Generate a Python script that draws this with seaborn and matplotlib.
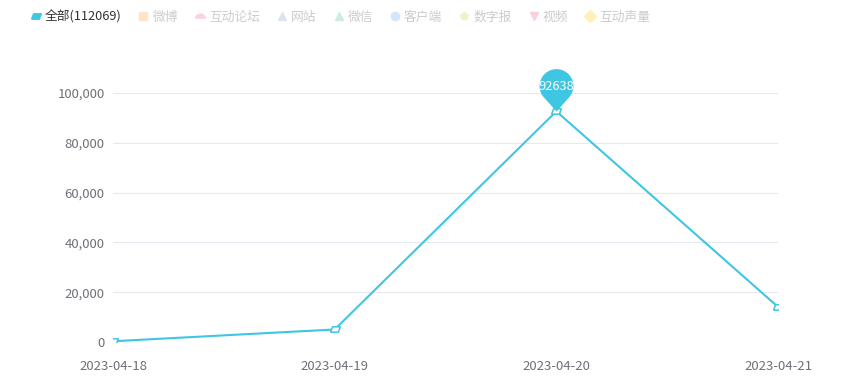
import numpy as np
import pandas as pd
import seaborn as sns
import matplotlib.pyplot as plt
from matplotlib.path import Path
from matplotlib.lines import Line2D
from matplotlib.ticker import FuncFormatter

sns.set_style('white')
plt.rcParams['font.family'] = ['Noto Sans CJK SC', 'DejaVu Sans']

# data
dates = ['2023-04-18', '2023-04-19', '2023-04-20', '2023-04-21']
counts = [300, 5031, 92638, 14100]
legend_names = ['全部(112069)', '微博', '互动论坛', '网站', '微信', '客户端', '数字报', '视频', '互动声量']
legend_colors = ['#3ec6e3', '#fde3c8', '#fad3dd', '#dde3f1', '#cdeedd', '#d3e6fb', '#ebf5cc', '#fbd0da', '#fdf0b8']
legend_markers = ['para', 's', 'hcirc', '^', '^', 'o', 'p', 'v', 'D']

main = '#3ec6e3'
df = pd.DataFrame({'date': dates, 'count': counts})

# custom marker shapes
para = Path([(-1, -0.55), (0.6, -0.55), (1, 0.55), (-0.6, 0.55), (-1, -0.55)])
hc_t = np.linspace(0, np.pi, 20)
hcirc = Path(np.column_stack([np.cos(hc_t), np.sin(hc_t) - 0.5]))
a = np.degrees(np.arccos(1 / 1.5))
t = np.radians(np.linspace(270 + a, 270 - a + 360, 60))
pin = Path(np.vstack([[0, 0], np.column_stack([np.cos(t), 1.5 + np.sin(t)]), [0, 0]]))
shapes = {'para': para, 'hcirc': hcirc}

fig = plt.figure(figsize=(8.6, 3.89), dpi=100)
ax = fig.add_axes([113 / 860, 1 - 342 / 389, 665 / 860, 249 / 389])

sns.lineplot(data=df, x='date', y='count', ax=ax, color=main, linewidth=1.5,
             marker=para, markersize=7, markerfacecolor='white',
             markeredgecolor=main, markeredgewidth=1.1, sort=False)

# max pin
imax = int(np.argmax(counts))
ax.plot([imax], [counts[imax]], marker=pin, markersize=61, color=main,
        markeredgewidth=0, linestyle='none', zorder=5, clip_on=False)
ax.annotate(str(counts[imax]), (imax, counts[imax]), xytext=(0, 18),
            textcoords='offset points', ha='center', va='center',
            color='white', fontsize=9.3, zorder=6)

ax.set_xlim(0, len(dates) - 1)
ax.set_ylim(0, 100000)
ax.set_yticks(np.arange(0, 100001, 20000))
ax.yaxis.set_major_formatter(FuncFormatter(lambda v, p: f'{int(v):,}'))
ax.grid(axis='y', color='#e6e9f0', linewidth=0.8)
ax.grid(axis='x', visible=False)
for s in ax.spines.values():
    s.set_visible(False)
ax.tick_params(axis='y', length=0, pad=6, labelsize=9.5, labelcolor='#6e7079')
ax.tick_params(axis='x', length=0, pad=13, labelsize=9.5, labelcolor='#6e7079')
ax.set_xlabel('')
ax.set_ylabel('')

handles = []
for name, c, m in zip(legend_names, legend_colors, legend_markers):
    mk = shapes.get(m, m)
    handles.append(Line2D([], [], marker=mk, color=c, linestyle='none',
                          markersize=7 if m in ('para', 'hcirc') else 6))
leg = fig.legend(handles=handles, labels=legend_names, loc='center left',
                 bbox_to_anchor=(26 / 860, 1 - 17 / 389), ncol=9, frameon=False,
                 handlelength=0.7, handletextpad=0.35, columnspacing=1.38,
                 fontsize=9.2, borderaxespad=0)
for i, txt in enumerate(leg.get_texts()):
    txt.set_color('#333333' if i == 0 else '#cccccc')

fig.savefig('out.png', dpi=100)
